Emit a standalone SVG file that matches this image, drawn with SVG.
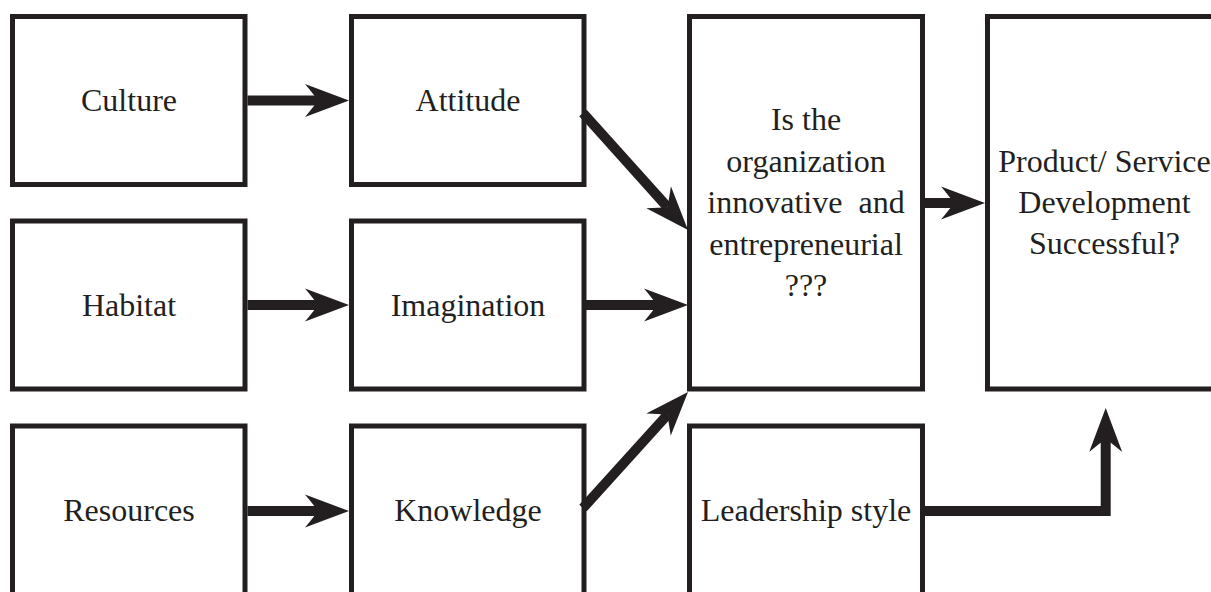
<svg xmlns="http://www.w3.org/2000/svg" width="1211" height="592" viewBox="0 0 1211 592">
<style>
.box{fill:#fff;stroke:#231f20;stroke-width:5}
.conn{fill:none;stroke:#231f20;stroke-width:10;stroke-linejoin:miter}
</style>
<defs>
<marker id="ah" markerUnits="userSpaceOnUse" viewBox="0 0 44 34" refX="13" refY="17" markerWidth="44" markerHeight="34" orient="auto" overflow="visible">
<path d="M44,17 L0,0.5 Q8,10 13,17 Q8,24 0,33.5 Z" fill="#231f20"/>
</marker>
</defs>
<rect width="1211" height="592" fill="#fff"/>
<g id="culture"><rect class="box" x="12.5" y="16.5" width="232.5" height="168"/><text font-family="Liberation Serif" font-size="32" fill="#231f20" text-anchor="middle" x="129" y="111">Culture</text></g>
<g id="habitat"><rect class="box" x="12.5" y="221" width="232.5" height="168"/><text font-family="Liberation Serif" font-size="32" fill="#231f20" text-anchor="middle" x="129" y="316">Habitat</text></g>
<g id="resources"><rect class="box" x="12.5" y="426" width="232.5" height="175"/><text font-family="Liberation Serif" font-size="32" fill="#231f20" text-anchor="middle" x="129" y="521">Resources</text></g>
<g id="attitude"><rect class="box" x="351.5" y="16.5" width="232.5" height="168"/><text font-family="Liberation Serif" font-size="32" fill="#231f20" text-anchor="middle" x="468" y="111">Attitude</text></g>
<g id="imagination"><rect class="box" x="351.5" y="221" width="232.5" height="168"/><text font-family="Liberation Serif" font-size="32" fill="#231f20" text-anchor="middle" x="468" y="316">Imagination</text></g>
<g id="knowledge"><rect class="box" x="351.5" y="426" width="232.5" height="175"/><text font-family="Liberation Serif" font-size="32" fill="#231f20" text-anchor="middle" x="468" y="521">Knowledge</text></g>
<g id="organization"><rect class="box" x="689.5" y="16.5" width="233" height="372.5"/>
<text font-family="Liberation Serif" font-size="32" fill="#231f20" text-anchor="middle" x="806" y="130">Is the</text>
<text font-family="Liberation Serif" font-size="32" fill="#231f20" text-anchor="middle" x="806" y="171.5">organization</text>
<text font-family="Liberation Serif" font-size="32" fill="#231f20" text-anchor="middle" x="806" y="213" xml:space="preserve">innovative  and</text>
<text font-family="Liberation Serif" font-size="32" fill="#231f20" text-anchor="middle" x="806" y="254.5">entrepreneurial</text>
<text font-family="Liberation Serif" font-size="32" fill="#231f20" text-anchor="middle" x="806" y="296">???</text></g>
<g id="leadership"><rect class="box" x="689.5" y="426" width="233" height="175"/><text font-family="Liberation Serif" font-size="32" fill="#231f20" text-anchor="middle" x="806" y="521">Leadership style</text></g>
<g id="product"><rect class="box" x="987.5" y="16.5" width="240" height="372.5"/>
<text font-family="Liberation Serif" font-size="32" fill="#231f20" text-anchor="middle" x="1104.5" y="172">Product/ Service</text>
<text font-family="Liberation Serif" font-size="32" fill="#231f20" text-anchor="middle" x="1104.5" y="213">Development</text>
<text font-family="Liberation Serif" font-size="32" fill="#231f20" text-anchor="middle" x="1104.5" y="254">Successful?</text></g>
<g id="connectors">
<path class="conn" d="M247.5,100.5 H318" marker-end="url(#ah)"/>
<path class="conn" d="M247.5,305 H318" marker-end="url(#ah)"/>
<path class="conn" d="M247.5,511 H318" marker-end="url(#ah)"/>
<path class="conn" d="M584,305 H657" marker-end="url(#ah)"/>
<path class="conn" d="M583,113 L667.3,206.9" marker-end="url(#ah)"/>
<path class="conn" d="M583,508 L667.2,415" marker-end="url(#ah)"/>
<path class="conn" d="M925,203 H954" marker-end="url(#ah)"/>
<path class="conn" d="M925,511 H1105.7 V439" marker-end="url(#ah)"/>
</g>
</svg>
